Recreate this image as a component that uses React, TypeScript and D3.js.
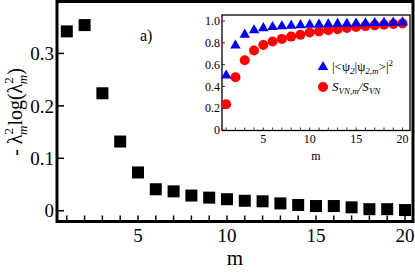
import React from 'react';
import * as d3 from 'd3';

const mValues = d3.range(1, 21);
const entropyTerm = [0.342, 0.354, 0.224, 0.132, 0.073, 0.041, 0.037, 0.029, 0.025, 0.022,
  0.019, 0.018, 0.014, 0.011, 0.009, 0.009, 0.0065, 0.003, 0.003, 0.0013];
const overlap = [0.50, 0.775, 0.875, 0.915, 0.935, 0.945, 0.952, 0.957, 0.962, 0.965,
  0.968, 0.970, 0.973, 0.975, 0.977, 0.979, 0.981, 0.983, 0.985, 0.987];
const entropyRatio = [0.236, 0.485, 0.64, 0.73, 0.78, 0.812, 0.836, 0.857, 0.873, 0.894,
  0.905, 0.915, 0.925, 0.935, 0.945, 0.953, 0.96, 0.966, 0.972, 0.978];
const mainYTicks = [0, 0.1, 0.2, 0.3];
const mainXTicks = [5, 10, 15, 20];
const insetYTicks = [0, 0.2, 0.4, 0.6, 0.8, 1.0];

const W = 415, H = 274;
const serif = '"Liberation Serif", "DejaVu Serif", serif';

const App = () => {
  // main panel
  const x = d3.scaleLinear().domain([0.45, 20.45]).range([57, 413]);
  const y = d3.scaleLinear().domain([-0.0205, 0.399]).range([221.5, 1.5]);
  // inset panel
  const xi = d3.scaleLinear().domain([0.55, 20.8]).range([222, 410]);
  const yi = d3.scaleLinear().domain([-0.004, 1.055]).range([130.5, 15]);
  const tri = d3.symbol().type(d3.symbolTriangle).size(48)();
  const sq = 12;

  return (
    <svg width={W} height={H} style={{position: 'absolute', left: 0, top: 0}} fontFamily={serif}>
      <rect width={W} height={H} fill="white" />
      {/* main squares */}
      {mValues.map((m, i) => (
        <rect key={i} x={x(m) - sq / 2} y={y(entropyTerm[i]) - sq / 2} width={sq} height={sq} fill="black" />
      ))}
      {/* main axes frame */}
      <rect x={x.range()[0]} y={y.range()[1]} width={x.range()[1] - x.range()[0]} height={y.range()[0] - y.range()[1]}
        fill="none" stroke="black" strokeWidth={3} />
      {mValues.map(m => (
        <line key={m} x1={x(m)} x2={x(m)} y1={y.range()[0]} y2={y.range()[0] - 6} stroke="black" strokeWidth={1.5} />
      ))}
      {mainYTicks.map(t => (
        <g key={t}>
          <line x1={x.range()[0]} x2={x.range()[0] + 7} y1={y(t)} y2={y(t)} stroke="black" strokeWidth={1.5} />
          <text x={x.range()[0] - 3} y={y(t)} dy="0.35em" textAnchor="end" fontSize={19}>{t === 0 ? '0' : d3.format('.1f')(t)}</text>
        </g>
      ))}
      {mainXTicks.map(t => (
        <text key={t} x={x(t)} y={242} textAnchor="middle" fontSize={19}>{t}</text>
      ))}
      <text x={(x.range()[0] + x.range()[1]) / 2} y={265} textAnchor="middle" fontSize={21}>m</text>
      <text transform="translate(22,112) rotate(-90)" textAnchor="middle" fontSize={20}>
        - λ<tspan fontSize={13} dy={-9}>2</tspan><tspan fontSize={13} fontStyle="italic" dx={-7} dy={14}>m</tspan><tspan dy={-5}>log(λ</tspan><tspan fontSize={13} dy={-9}>2</tspan><tspan fontSize={13} fontStyle="italic" dx={-7} dy={14}>m</tspan><tspan dy={-5}>)</tspan>
      </text>
      <text x={140} y={41} fontSize={16}>a)</text>

      {/* inset */}
      <rect x={xi.range()[0]} y={yi.range()[1]} width={xi.range()[1] - xi.range()[0]} height={yi.range()[0] - yi.range()[1]}
        fill="white" stroke="black" strokeWidth={1.3} />
      {mValues.map(m => (
        <line key={m} x1={xi(m)} x2={xi(m)} y1={yi.range()[0]} y2={yi.range()[0] - 3} stroke="black" strokeWidth={0.8} />
      ))}
      {insetYTicks.map(t => (
        <g key={t}>
          <line x1={xi.range()[0]} x2={xi.range()[0] + 3} y1={yi(t)} y2={yi(t)} stroke="black" strokeWidth={0.8} />
          <text x={xi.range()[0] - 2} y={yi(t)} dy="0.35em" textAnchor="end" fontSize={12}>{t === 0 ? '0' : d3.format('.1f')(t)}</text>
        </g>
      ))}
      {mainXTicks.map(t => (
        <text key={t} x={xi(t)} y={143} textAnchor="middle" fontSize={12}>{t}</text>
      ))}
      <text x={(xi.range()[0] + xi.range()[1]) / 2} y={160} textAnchor="middle" fontSize={12}>m</text>
      {mValues.map((m, i) => (
        <circle key={'c' + m} cx={xi(m)} cy={yi(entropyRatio[i])} r={5} fill="#ff0000" />
      ))}
      {mValues.map((m, i) => (
        <path key={'t' + m} d={tri} transform={`translate(${xi(m)},${yi(overlap[i])})`} fill="#0000ee" />
      ))}
      {/* legend */}
      <path d={tri} transform="translate(323,67)" fill="#0000ee" />
      <text x={332} y={71} fontSize={13}>|&lt;ψ<tspan fontSize={9} dy={3} fontStyle="italic">2</tspan><tspan dy={-3}>|ψ</tspan><tspan fontSize={9} dy={3} fontStyle="italic">2,m</tspan><tspan dy={-3}>&gt;|</tspan><tspan fontSize={9} dy={-5}>2</tspan></text>
      <circle cx={323} cy={87} r={5} fill="#ff0000" />
      <text x={332} y={91} fontSize={13} fontStyle="italic">S<tspan fontSize={9} dy={3}>VN,m</tspan><tspan dy={-3}>/S</tspan><tspan fontSize={9} dy={3}>VN</tspan></text>
    </svg>
  );
};

export default App;
